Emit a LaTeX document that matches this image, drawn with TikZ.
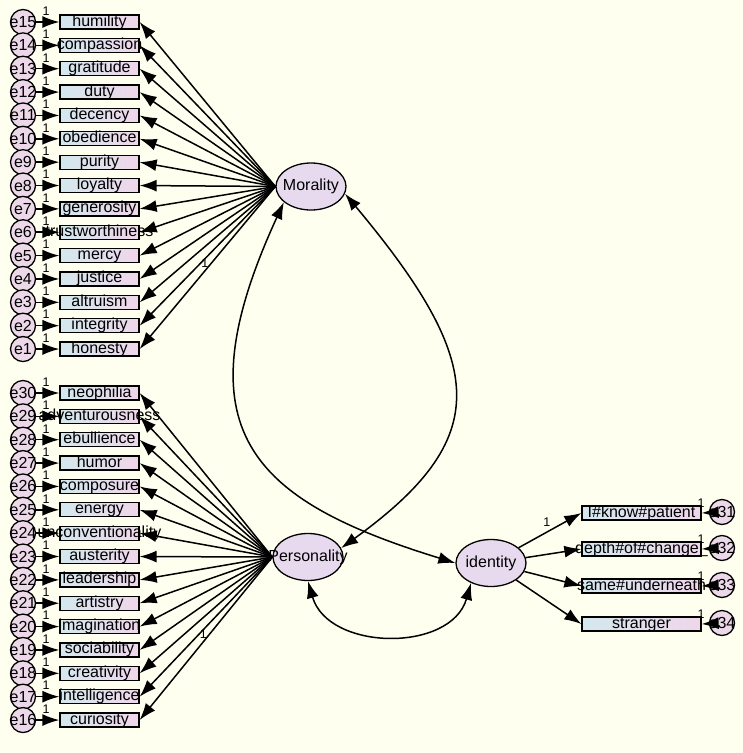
\documentclass[tikz,border=0pt]{standalone}
\usepackage{fontspec}
\setmainfont{Liberation Sans}
\usetikzlibrary{arrows.meta,shapes.geometric}

\definecolor{bgcream}{RGB}{255,255,240}
\definecolor{boxleft}{RGB}{212,232,238}
\definecolor{boxright}{RGB}{240,214,234}
\definecolor{latfill}{RGB}{232,218,238}
\definecolor{errfill}{RGB}{236,216,232}

\tikzset{
  lbl/.style={font=\fontsize{16}{19}\selectfont},
  obs/.style={draw, line width=1.3pt, left color=boxleft, right color=boxright,
    minimum width=79pt, minimum height=14pt, inner sep=0pt,
    text height=11pt, text depth=3pt, lbl},
  err/.style={circle, draw, line width=1.3pt, fill=errfill,
    minimum size=25pt, inner sep=0pt, lbl},
  lat/.style={ellipse, draw, line width=1.3pt, fill=latfill,
    minimum width=70pt, minimum height=47pt, inner sep=0pt, lbl},
  load/.style={line width=1.5pt, -{Latex[length=17pt,width=12pt]}},
  cov/.style={line width=1.5pt, {Latex[length=17pt,width=12pt]}-{Latex[length=17pt,width=12pt]}},
  fixone/.style={font=\fontsize{12.5}{14}\selectfont, inner sep=1pt},
}

\begin{document}
\begin{tikzpicture}[x=1pt,y=-1pt]
    \fill[bgcream] (0,0) rectangle (743,753);

    % Latent variables
    \node[lat] (Mor) at (311,186.5) {\makebox[0pt]{Morality}};
    \node[lat] (Pers) at (308,557) {\makebox[0pt]{Personality}};
    \node[lat] (id) at (491,563) {\makebox[0pt]{identity}};

    % Morality indicators
    \foreach \word [count=\i] in {humility,compassion,gratitude,duty,decency,obedience,purity,loyalty,generosity,trustworthiness,mercy,justice,altruism,integrity,honesty} {
        \pgfmathtruncatemacro\k{16-\i}
        \pgfmathsetmacro\yy{22+(\i-1)*23.36}
        \node[err] (e\k) at (23,\yy) {\makebox[0pt]{e\k}};
        \node[obs] (m\k) at (99.5,\yy) {\makebox[0pt]{\word}};
        \draw[load] (e\k) -- (m\k);
        \node[fixone] at (46,\yy-11) {1};
    }
    \foreach \k in {2,...,15}
        \draw[load] (Mor.west) -- (m\k.east);
    \draw[load] (Mor.west) -- node[fixone, pos=0.52, above=2pt] {1} (m1.east);

    % Personality indicators
    \foreach \word [count=\i] in {neophilia,adventurousness,ebullience,humor,composure,energy,unconventionality,austerity,leadership,artistry,imagination,sociability,creativity,intelligence,curiosity} {
        \pgfmathtruncatemacro\k{31-\i}
        \pgfmathsetmacro\yy{393+(\i-1)*23.36}
        \node[err] (e\k) at (23,\yy) {\makebox[0pt]{e\k}};
        \node[obs] (p\k) at (99.5,\yy) {\makebox[0pt]{\word}};
        \draw[load] (e\k) -- (p\k);
        \node[fixone] at (46,\yy-11) {1};
    }
    \foreach \k in {17,...,30}
        \draw[load] (Pers.west) -- (p\k.east);
    \draw[load] (Pers.west) -- node[fixone, pos=0.52, above=2pt] {1} (p16.east);

    % identity indicators
    \node[err] (e31) at (722,512) {\makebox[0pt]{e31}};
    \node[err] (e32) at (722,548) {\makebox[0pt]{e32}};
    \node[err] (e33) at (722,585) {\makebox[0pt]{e33}};
    \node[err] (e34) at (722,623) {\makebox[0pt]{e34}};
    \node[obs, minimum width=119pt] (r31) at (641.5,513) {\makebox[0pt]{I\#know\#patient}};
    \node[obs, minimum width=119pt] (r32) at (641.5,549) {\makebox[0pt]{depth\#of\#change\_}};
    \node[obs, minimum width=119pt] (r33) at (641.5,586) {\makebox[0pt]{same\#underneath}};
    \node[obs, minimum width=119pt] (r34) at (641.5,624) {\makebox[0pt]{stranger}};
    \draw[load] (id) -- node[fixone, pos=0.45, above=4pt] {1} (r31.west);
    \draw[load] (id) -- (r32.west);
    \draw[load] (id) -- (r33.west);
    \draw[load] (id) -- (r34.west);
    \foreach \k in {31,...,34}
        \draw[load] (e\k) -- (r\k.east);
    \node[fixone] at (701,503) {1};
    \node[fixone] at (701,539) {1};
    \node[fixone] at (701,576) {1};
    \node[fixone] at (701,614) {1};

    % Covariances
    \draw[cov] (Mor.-12) .. controls +(143,171) and +(152,-110) .. (Pers.15);
    \draw[cov] (Mor.-150) .. controls +(-105,228) and +(-205,-63) .. (id.west);
    \draw[cov] (Pers.south) .. controls +(20,70) and +(-20,70) .. (id.-135);
\end{tikzpicture}
\end{document}
